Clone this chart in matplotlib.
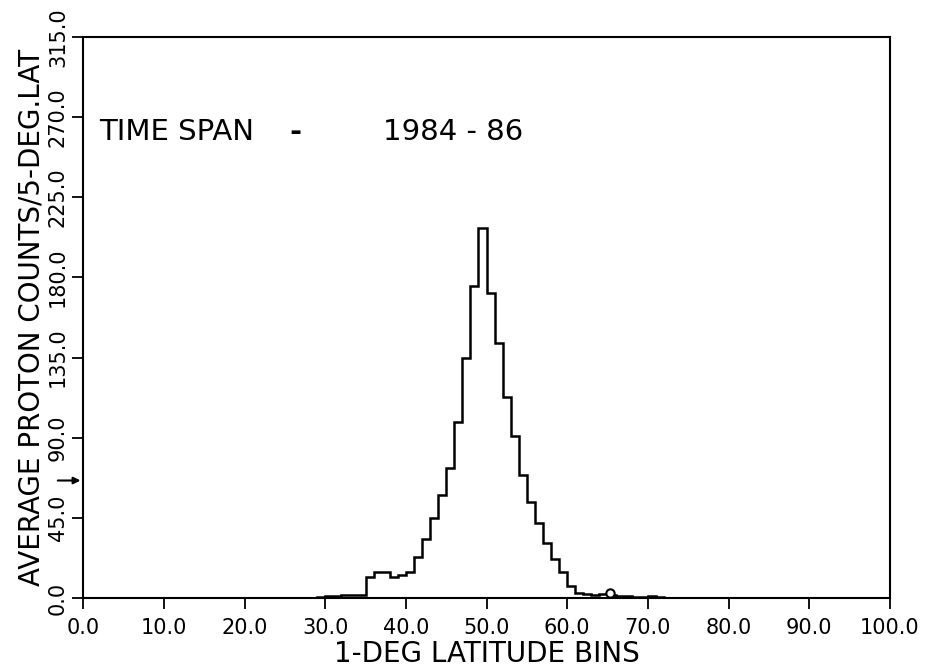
import matplotlib
matplotlib.use("Agg")
import matplotlib.pyplot as plt
import numpy as np

# 1-deg latitude bins (left edges) and average proton counts
bin_left = [29, 30, 31, 32, 33, 34, 35, 36, 37, 38, 39, 40, 41, 42, 43, 44,
            45, 46, 47, 48, 49, 50, 51, 52, 53, 54, 55, 56, 57, 58, 59, 60,
            61, 62, 63, 64, 65, 66, 67, 68, 69, 70, 71]
counts = [0.5, 1.0, 1.0, 1.5, 1.5, 2.0, 11.7, 14.6, 14.6, 11.7, 12.7, 14.6,
          23.0, 33.0, 45.0, 58.0, 73.0, 99.0, 135.0, 175.0, 208.0, 171.0,
          143.0, 113.0, 91.0, 69.0, 54.0, 42.0, 31.0, 22.0, 14.6, 7.0,
          3.0, 2.5, 2.0, 2.5, 2.0, 1.0, 1.0, 0.5, 0.5, 1.0, 0.5]
bump_x = [65.3]
bump_y = [3.0]
pointer_y = 66.0

x_ticks = [0, 10, 20, 30, 40, 50, 60, 70, 80, 90, 100]
y_ticks = [0, 45, 90, 135, 180, 225, 270, 315]

plt.rcParams['font.family'] = ['Liberation Sans Narrow', 'DejaVu Sans']

fig = plt.figure(figsize=(9.25, 6.72), dpi=100)
ax = fig.add_axes([0.09, 0.11, 0.872, 0.835])

edges = bin_left + [bin_left[-1] + 1]
ax.stairs(counts, edges, color='black', linewidth=1.8, baseline=0)
ax.plot(bump_x, bump_y, 'o', markerfacecolor='white', markeredgecolor='black',
        markersize=6, markeredgewidth=1.5)

ax.set_xlim(0, 100)
ax.set_ylim(0, 315)
ax.set_xticks(x_ticks)
ax.set_xticklabels(['%.1f' % v for v in x_ticks], fontsize=15)
ax.set_yticks(y_ticks)
ax.set_yticklabels(['%.1f' % v for v in y_ticks], fontsize=15,
                   rotation=90, va='center')
ax.tick_params(direction='out', length=8, width=1.3, color='black')
ax.tick_params(axis='x', pad=6)
ax.tick_params(axis='y', pad=3)
for s in ax.spines.values():
    s.set_linewidth(1.5)

ax.set_xlabel('1-DEG LATITUDE BINS', fontsize=20, labelpad=2)
ax.set_ylabel('AVERAGE PROTON COUNTS/5-DEG.LAT', fontsize=20, labelpad=2)

ax.text(0.02, 0.83, 'TIME SPAN', transform=ax.transAxes, fontsize=21,
        va='center', ha='left')
ax.text(0.255, 0.83, '-', transform=ax.transAxes, fontsize=21,
        va='center', ha='left', fontweight='bold')
ax.text(0.372, 0.83, '1984 - 86', transform=ax.transAxes, fontsize=21,
        va='center', ha='left')

ax.annotate('', xy=(0, pointer_y), xytext=(-3.5, pointer_y),
            arrowprops=dict(arrowstyle='-|>', color='black', lw=1.5),
            annotation_clip=False)

fig.savefig('out.png', dpi=100)
